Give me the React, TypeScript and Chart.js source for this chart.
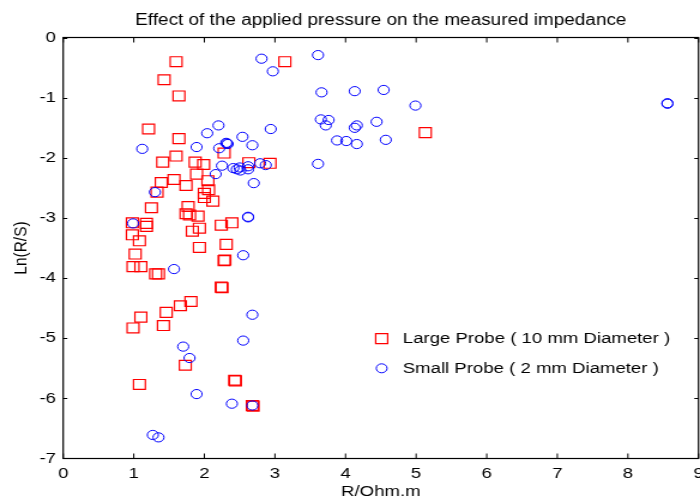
import React, { useEffect, useRef } from 'react';
import { Chart, registerables } from 'chart.js';

Chart.register(...registerables);

// ---- data ----
const largeLabel = 'Large Probe ( 10 mm Diameter )';
const smallLabel = 'Small Probe ( 2 mm Diameter )';

const largeX = [1.60, 3.14, 1.43, 1.64, 1.21, 1.64, 5.13, 2.28, 1.60, 1.41, 1.87, 1.99, 2.63, 2.93, 1.89, 1.57, 1.39, 1.74, 2.05, 2.06, 1.33, 2.00, 2.00, 2.12, 1.25, 1.77, 1.74, 1.79, 1.91, 0.98, 1.18, 1.18, 2.24, 2.39, 1.93, 1.83, 0.98, 1.08, 1.93, 2.31, 1.02, 2.28, 0.99, 1.10, 1.31, 1.35, 2.24, 1.81, 1.66, 1.46, 1.10, 1.42, 0.99, 1.73, 2.43, 1.08, 2.68, 2.44, 2.25, 2.29, 2.69];
const largeY = [-0.40, -0.40, -0.70, -0.97, -1.52, -1.68, -1.58, -1.92, -1.97, -2.07, -2.07, -2.11, -2.08, -2.09, -2.27, -2.36, -2.41, -2.46, -2.38, -2.53, -2.57, -2.59, -2.66, -2.72, -2.83, -2.81, -2.93, -2.95, -2.97, -3.08, -3.09, -3.14, -3.12, -3.08, -3.17, -3.22, -3.28, -3.38, -3.49, -3.44, -3.60, -3.71, -3.81, -3.81, -3.93, -3.93, -4.15, -4.39, -4.46, -4.57, -4.65, -4.79, -4.83, -5.45, -5.70, -5.77, -6.12, -5.71, -4.16, -3.70, -6.13];

const smallX = [2.81, 2.97, 3.61, 3.66, 4.13, 4.54, 4.99, 8.56, 8.56, 3.65, 3.76, 3.72, 4.16, 4.13, 4.44, 2.94, 2.54, 2.68, 3.88, 4.01, 4.16, 4.57, 3.61, 2.79, 2.87, 2.62, 2.62, 2.50, 2.70, 2.62, 2.62, 2.20, 2.04, 1.12, 1.89, 2.21, 2.32, 2.33, 2.31, 2.25, 2.16, 2.41, 2.46, 2.51, 1.30, 0.99, 2.55, 1.57, 2.68, 2.55, 1.70, 1.79, 1.89, 2.39, 2.68, 1.27, 1.35];
const smallY = [-0.35, -0.56, -0.29, -0.91, -0.89, -0.87, -1.13, -1.09, -1.10, -1.36, -1.37, -1.46, -1.46, -1.50, -1.40, -1.52, -1.65, -1.79, -1.71, -1.72, -1.77, -1.70, -2.10, -2.09, -2.12, -2.14, -2.19, -2.16, -2.42, -2.98, -2.99, -1.46, -1.59, -1.85, -1.82, -1.84, -1.76, -1.77, -1.75, -2.13, -2.27, -2.17, -2.19, -2.21, -2.57, -3.09, -3.62, -3.85, -4.61, -5.04, -5.14, -5.33, -5.93, -6.09, -6.12, -6.61, -6.65];

const xMin = 0;
const xMax = 9;
const yMin = -7;
const yMax = 0;

const titleText = 'Effect of the applied pressure on the measured impedance';
const xTitle = 'R/Ohm.m';
const yTitle = 'Ln(R/S)';

// ---- layout / style ----
const CANVAS_W = 584;
const CANVAS_H = 501;
const STRETCH = 700 / CANVAS_W;
const FONT = "'Liberation Sans', Arial, Helvetica, sans-serif";
const RED = '#ff0000';
const BLUE = '#0000ff';

const toPts = (xs: number[], ys: number[]) => xs.map((x, i) => ({ x, y: ys[i] }));

const boxPlugin = {
  id: 'matlabBox',
  afterDatasetsDraw(chart: any) {
    const { ctx, chartArea: a, scales } = chart;
    const top = Math.floor(a.top) + 0.5;
    const bottom = Math.floor(a.bottom) + 0.5;
    const left = a.left;
    const right = Math.min(a.right, chart.width - 0.8);
    ctx.save();
    ctx.strokeStyle = '#000';
    ctx.lineWidth = 1.2;
    ctx.strokeRect(left, top, right - left, bottom - top);
    ctx.beginPath();
    ctx.lineWidth = 1;
    scales.x.ticks.forEach((t: any) => {
      const px = scales.x.getPixelForValue(t.value);
      ctx.moveTo(px, bottom);
      ctx.lineTo(px, bottom - 5);
      ctx.moveTo(px, top);
      ctx.lineTo(px, top + 5);
    });
    scales.y.ticks.forEach((t: any) => {
      const py = Math.round(scales.y.getPixelForValue(t.value)) + 0.5;
      ctx.moveTo(left, py);
      ctx.lineTo(left + 3.5, py);
      ctx.moveTo(right, py);
      ctx.lineTo(right - 3.5, py);
    });
    ctx.stroke();
    ctx.restore();
  },
};

const legendPlugin = {
  id: 'insideLegend',
  afterDraw(chart: any) {
    const { ctx, chartArea: a } = chart;
    const mx = a.left + 0.5013 * (a.right - a.left);
    const y0 = a.top + 0.7155 * (a.bottom - a.top);
    const gap = 29.6;
    const items = [
      { label: largeLabel, color: RED, style: 'rect' },
      { label: smallLabel, color: BLUE, style: 'circle' },
    ];
    ctx.save();
    ctx.font = `15.5px ${FONT}`;
    ctx.textBaseline = 'middle';
    ctx.textAlign = 'left';
    items.forEach((it, i) => {
      const y = y0 + i * gap;
      ctx.strokeStyle = it.color;
      ctx.beginPath();
      if (it.style === 'rect') {
        ctx.lineWidth = 1.2;
        ctx.rect(mx - 5, y - 5, 10, 10);
      } else {
        ctx.lineWidth = 1;
        ctx.arc(mx, y, 4.5, 0, Math.PI * 2);
      }
      ctx.stroke();
      ctx.fillStyle = '#000';
      ctx.fillText(it.label, mx + 17.6, y);
    });
    ctx.restore();
  },
};

export default function App() {
  const ref = useRef<HTMLCanvasElement | null>(null);

  useEffect(() => {
    if (!ref.current) return;
    const chart = new Chart(ref.current, {
      type: 'scatter',
      data: {
        datasets: [
          {
            label: largeLabel,
            data: toPts(largeX, largeY),
            pointStyle: 'rect',
            pointRadius: 7,
            borderColor: RED,
            backgroundColor: 'rgba(0,0,0,0)',
            borderWidth: 1.2,
            order: 2,
          },
          {
            label: smallLabel,
            data: toPts(smallX, smallY),
            pointStyle: 'circle',
            pointRadius: 4.6,
            borderColor: BLUE,
            backgroundColor: 'rgba(0,0,0,0)',
            borderWidth: 1,
            order: 1,
          },
        ],
      },
      options: {
        responsive: false,
        animation: false,
        events: [],
        devicePixelRatio: 1,
        layout: { autoPadding: false, padding: { left: 0, right: 1.25, top: 0, bottom: 0 } },
        plugins: {
          legend: { display: false },
          tooltip: { enabled: false },
          title: {
            display: true,
            text: titleText,
            fullSize: false,
            color: '#000',
            font: { family: FONT, size: 15.8, weight: 'normal' },
            padding: { top: 11.5, bottom: 7.2 },
          },
        },
        scales: {
          x: {
            type: 'linear',
            min: xMin,
            max: xMax,
            grid: { display: false, drawTicks: false },
            border: { display: false },
            ticks: {
              stepSize: 1,
              color: '#000',
              padding: 6,
              font: { family: FONT, size: 15.5 },
            },
            title: {
              display: true,
              text: xTitle,
              color: '#000',
              font: { family: FONT, size: 15.5 },
              padding: { top: 0, bottom: 0 },
            },
            afterFit: (s: any) => {
              s.height = 42.6;
              s.paddingLeft = 0;
              s.paddingRight = 0;
            },
          },
          y: {
            type: 'linear',
            min: yMin,
            max: yMax,
            grid: { display: false, drawTicks: false },
            border: { display: false },
            ticks: {
              stepSize: 1,
              color: '#000',
              padding: 6,
              font: { family: FONT, size: 15.5 },
            },
            title: {
              display: true,
              text: yTitle,
              color: '#000',
              font: { family: FONT, size: 15.5 },
              padding: { top: 8.6, bottom: 0 },
            },
            afterFit: (s: any) => {
              s.width = 52.7;
              s.paddingTop = 0;
              s.paddingBottom = 0;
            },
          },
        },
      } as any,
      plugins: [boxPlugin, legendPlugin],
    });
    return () => chart.destroy();
  }, []);

  return (
    <div
      style={{
        position: 'fixed',
        left: 0,
        top: 0,
        width: 700,
        height: 501,
        overflow: 'hidden',
        background: '#fff',
      }}
    >
      <canvas
        ref={ref}
        width={CANVAS_W}
        height={CANVAS_H}
        style={{
          display: 'block',
          width: `${CANVAS_W}px`,
          height: `${CANVAS_H}px`,
          transform: `scaleX(${STRETCH})`,
          transformOrigin: '0 0',
        }}
      />
    </div>
  );
}
